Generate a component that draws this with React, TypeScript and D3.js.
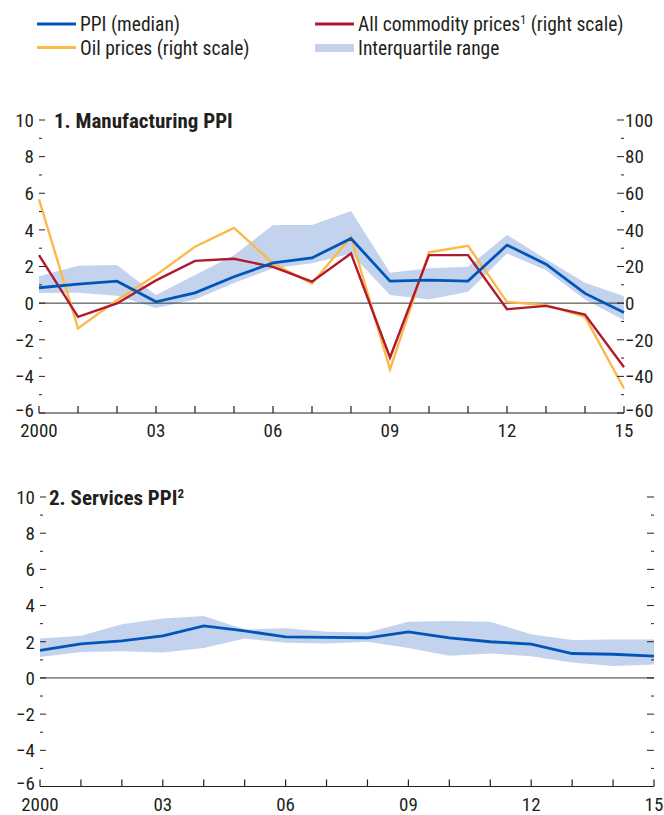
import React from "react";
import * as d3 from "d3";

const years = d3.range(2000, 2016);
const xTickLabels = ["2000", "03", "06", "09", "12", "15"];
const xLabelYears = [2000, 2003, 2006, 2009, 2012, 2015];

// Panel 1: Manufacturing PPI (left scale, percent)
const mfgMedian = [0.84, 1.04, 1.2, 0.07, 0.56, 1.44, 2.2, 2.47, 3.53, 1.2, 1.26, 1.2, 3.17, 2.13, 0.53, -0.51];
const mfgUpper = [1.47, 2.04, 2.08, 0.44, 1.53, 2.62, 4.26, 4.26, 5.03, 1.66, 1.9, 1.98, 3.72, 2.4, 1.11, 0.38];
const mfgLower = [0.55, 0.56, 0.4, -0.26, 0.2, 1.1, 1.9, 2.18, 2.7, 0.44, 0.2, 0.62, 2.71, 1.8, 0.2, -0.93];
// Right scale (percent)
const commodity = [26.2, -7.5, -0.2, 12.4, 23.1, 24.2, 19.8, 11.7, 27.1, -29.7, 26.2, 26.2, -3.3, -1.5, -6.2, -35];
const oil = [56.7, -13.8, 1.6, 15.3, 30.8, 41.1, 21.7, 10.7, 36.2, -36.2, 27.7, 31.3, 0.7, -1.1, -7.5, -46.6];

// Panel 2: Services PPI
const svcMedian = [1.52, 1.88, 2.05, 2.33, 2.88, 2.6, 2.27, 2.24, 2.22, 2.55, 2.22, 2.0, 1.87, 1.35, 1.31, 1.2];
const svcUpper = [2.18, 2.33, 2.97, 3.29, 3.42, 2.68, 2.74, 2.55, 2.51, 3.1, 3.14, 3.1, 2.42, 2.09, 2.13, 2.13];
const svcLower = [1.16, 1.44, 1.48, 1.41, 1.66, 2.18, 1.94, 1.9, 2.0, 1.66, 1.22, 1.35, 1.2, 0.85, 0.66, 0.74];

const leftTicks = d3.range(-6, 11, 1);
const rightTicks = d3.range(-60, 101, 10);

const BLUE = "#0056b8";
const RED = "#b01a2e";
const ORANGE = "#fdb84a";
const BAND = "#c3d3ee";
const TEXT = "#231f20";
const FONT = "'Liberation Sans Narrow', 'Arial Narrow', 'Roboto Condensed', 'Liberation Sans', sans-serif";
const FS = 19;

type PanelProps = {
  x0: number; x1: number; yTop: number; yBot: number;
  title: string; sup?: string; titleDx: number;
  median: number[]; upper: number[]; lower: number[];
  comm?: number[]; oilV?: number[]; rightLabels: boolean;
};

function Panel(p: PanelProps) {
  const x = d3.scaleLinear().domain([2000, 2015]).range([p.x0, p.x1]);
  const y = d3.scaleLinear().domain([-6, 10]).range([p.yBot, p.yTop]);
  const yr = d3.scaleLinear().domain([-60, 100]).range([p.yBot, p.yTop]);
  const area = d3.area<number>().x((_, i) => x(years[i])).y0((_, i) => y(p.lower[i])).y1((_, i) => y(p.upper[i]));
  const lineL = d3.line<number>().x((_, i) => x(years[i])).y((d) => y(d));
  const lineR = d3.line<number>().x((_, i) => x(years[i])).y((d) => yr(d));
  const fmt = (v: number) => (v < 0 ? "\u2212" + Math.abs(v) : String(v));
  return (
    <g>
      <path d={area(p.median) || ""} fill={BAND} />
      <line x1={p.x0} x2={p.x1} y1={y(0)} y2={y(0)} stroke="#333" strokeWidth={1} />
      {p.oilV && <path d={lineR(p.oilV) || ""} fill="none" stroke={ORANGE} strokeWidth={2.4} strokeLinejoin="miter" />}
      {p.comm && <path d={lineR(p.comm) || ""} fill="none" stroke={RED} strokeWidth={2.4} strokeLinejoin="miter" />}
      <path d={lineL(p.median) || ""} fill="none" stroke={BLUE} strokeWidth={2.8} strokeLinejoin="miter" />
      {/* left ticks */}
      {leftTicks.map((t) => {
        const major = t % 2 === 0;
        return (
          <g key={"l" + t}>
            <line x1={p.x0} x2={p.x0 + (major ? 6 : 3)} y1={y(t)} y2={y(t)} stroke={TEXT} strokeWidth={1} />
            {major && (
              <text x={p.x0 - 5} y={y(t) - (t === -6 ? 3 : 0)} dy="0.36em" textAnchor="end" fontSize={FS} fill={TEXT} fontFamily={FONT}>
                {fmt(t)}
              </text>
            )}
          </g>
        );
      })}
      {/* right ticks */}
      {rightTicks.map((t) => {
        const major = t % 20 === 0;
        return (
          <g key={"r" + t}>
            <line x1={p.x1 - (major ? 7 : 3)} x2={p.x1} y1={yr(t)} y2={yr(t)} stroke={TEXT} strokeWidth={1} />
            {major && p.rightLabels && (
              <text x={p.x1 + 1} y={yr(t) - (t === -60 ? 3 : 0)} dy="0.36em" textAnchor="start" fontSize={FS} fill={TEXT} fontFamily={FONT}>
                {fmt(t)}
              </text>
            )}
          </g>
        );
      })}
      {/* x axis */}
      <line x1={p.x0} x2={p.x1} y1={p.yBot} y2={p.yBot} stroke={TEXT} strokeWidth={1.2} />
      {years.map((yv) => (
        <line key={"xt" + yv} x1={x(yv)} x2={x(yv)} y1={p.yBot} y2={p.yBot - 7} stroke={TEXT} strokeWidth={1.2} />
      ))}
      {xLabelYears.map((yv, i) => (
        <text key={"xl" + yv} x={x(yv)} y={p.yBot + 24} textAnchor="middle" fontSize={FS} fill={TEXT} fontFamily={FONT}>
          {xTickLabels[i]}
        </text>
      ))}
      <text x={p.x0 + p.titleDx} y={p.yTop} dy="0.36em" fontSize={21} fontWeight="bold" fill={TEXT} fontFamily={FONT}>
        {p.title}
        {p.sup && (
          <tspan fontSize={13} dy="-7">{p.sup}</tspan>
        )}
      </text>
    </g>
  );
}

export default function App() {
  const legendFont = { fontSize: FS + 0.5, fill: TEXT, fontFamily: FONT } as const;
  return (
    <svg width={664} height={815} style={{ position: "absolute", left: 0, top: 0, background: "#fff" }}>
      <rect width={664} height={815} fill="#fff" />
      {/* legend */}
      <line x1={37} x2={76} y1={24} y2={24} stroke={BLUE} strokeWidth={3} />
      <text x={80} y={24} dy="0.36em" {...legendFont}>PPI (median)</text>
      <line x1={37} x2={76} y1={47.5} y2={47.5} stroke={ORANGE} strokeWidth={3} />
      <text x={80} y={47.5} dy="0.36em" {...legendFont}>Oil prices (right scale)</text>
      <line x1={315} x2={354} y1={24} y2={24} stroke={RED} strokeWidth={3} />
      <text x={358} y={24} dy="0.36em" {...legendFont}>
        All commodity prices<tspan fontSize={12} dy="-7">1</tspan><tspan dy="7"> (right scale)</tspan>
      </text>
      <rect x={315} y={44} width={39} height={8} fill={BAND} />
      <text x={358} y={47.5} dy="0.36em" {...legendFont}>Interquartile range</text>

      <Panel x0={39} x1={624} yTop={120} yBot={413} title="1. Manufacturing PPI" titleDx={15}
        median={mfgMedian} upper={mfgUpper} lower={mfgLower} comm={commodity} oilV={oil} rightLabels={true} />
      <Panel x0={40} x1={654} yTop={497} yBot={786.5} title="2. Services PPI" sup="2" titleDx={9}
        median={svcMedian} upper={svcUpper} lower={svcLower} rightLabels={false} />
    </svg>
  );
}
